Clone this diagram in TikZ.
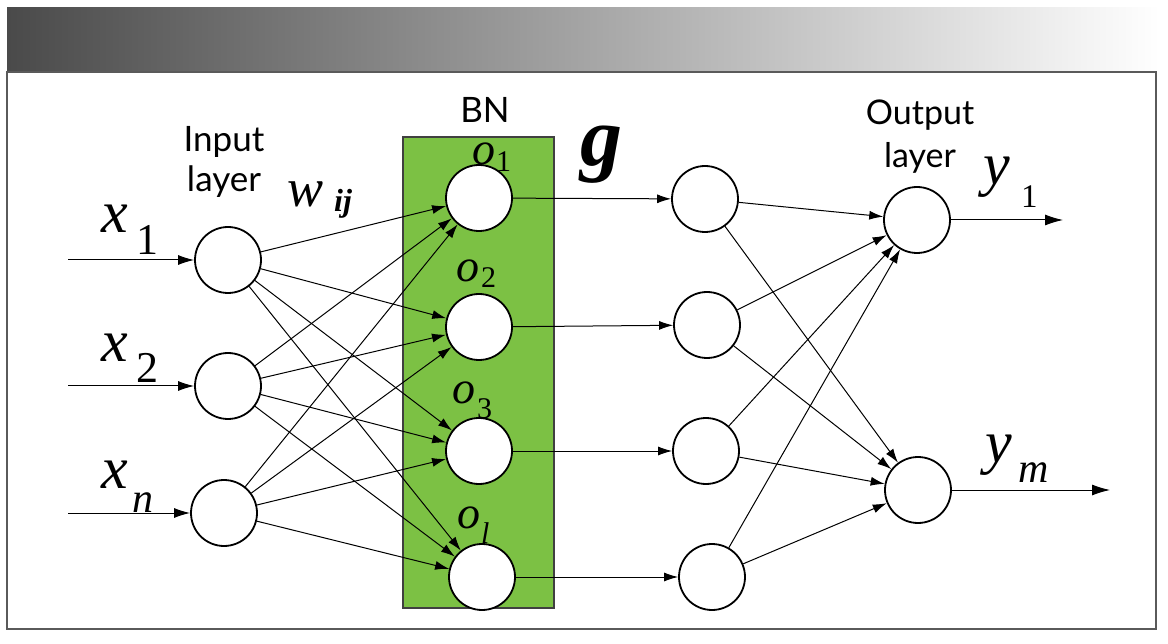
\documentclass[tikz,border=0pt]{standalone}
\usepackage{fontspec}
\setmainfont{Liberation Serif}
\newfontfamily\lato{Lato}
\usetikzlibrary{arrows.meta}
\definecolor{hdrdark}{RGB}{74,74,74}
\definecolor{bngreen}{RGB}{124,193,68}
\definecolor{framegray}{RGB}{90,90,90}
\begin{document}
\begin{tikzpicture}[x=1pt,y=-1pt,
  neuron/.style={circle,draw=black,line width=1.8pt,minimum size=66pt,inner sep=0pt,fill=white},
  conn/.style={-{Latex[length=14pt,width=9pt]},line width=1pt},
  lbl/.style={anchor=base west,inner sep=0pt},
  var/.style={lbl,font=\fontsize{60}{60}\selectfont\itshape},
  sub/.style={lbl,font=\fontsize{44}{44}\selectfont\itshape},
  ovar/.style={lbl,font=\fontsize{46}{46}\selectfont\itshape},
  osub/.style={lbl,font=\fontsize{30}{30}\selectfont\itshape},
  title/.style={inner sep=0pt,anchor=base,font=\lato\fontsize{35}{35}\selectfont}]
\useasboundingbox (0,0) rectangle (1168,644);
\fill[white] (0,0) rectangle (1168,644);
% header band and frame
\shade[left color=hdrdark,right color=white] (7,8) rectangle (1160,72);
\draw[framegray,line width=2pt] (7,72) rectangle (1156,629);
% BN box
\draw[fill=bngreen,draw=black!75,line width=1.3pt] (403,137) rectangle (554,608);
% neurons
\node[neuron] (in1) at (228,260) {};
\node[neuron] (in2) at (228,386) {};
\node[neuron] (in3) at (224,513) {};
\node[neuron] (bn1) at (479,198) {};
\node[neuron] (bn2) at (479,327) {};
\node[neuron] (bn3) at (479,451) {};
\node[neuron] (bn4) at (482,577) {};
\node[neuron] (h1) at (705,199) {};
\node[neuron] (h2) at (707,325) {};
\node[neuron] (h3) at (706,451) {};
\node[neuron] (h4) at (712,577) {};
\node[neuron] (out1) at (917,220) {};
\node[neuron] (out2) at (918,490) {};
% input arrows
\coordinate (s1) at (68,260);
\coordinate (s2) at (68,386);
\coordinate (s3) at (68,513);
\draw[conn,-{Latex[length=16pt,width=10pt]}] (s1) -- (in1);
\draw[conn,-{Latex[length=16pt,width=10pt]}] (s2) -- (in2);
\draw[conn,-{Latex[length=16pt,width=10pt]}] (s3) -- (in3);
% input -> BN
\foreach \i in {1,2,3}{
  \foreach \j in {1,2,3,4}{
    \draw[conn] (in\i) -- (bn\j);
  }
}
% BN -> hidden
\foreach \j in {1,2,3,4}{
  \draw[conn] (bn\j) -- (h\j);
}
% hidden -> output
\foreach \j in {1,2,3,4}{
  \draw[conn] (h\j) -- (out1);
  \draw[conn] (h\j) -- (out2);
}
% output arrows
\coordinate (e1) at (1063,220);
\coordinate (e2) at (1110,490);
\draw[conn,-{Latex[length=18pt,width=11pt]}] (out1) -- (e1);
\draw[conn,-{Latex[length=18pt,width=11pt]}] (out2) -- (e2);
% titles
\node[title] (tin1) at (224,152) {Input};
\node[title] (tin2) at (224,192) {layer};
\node[title] (tbn) at (485,123) {BN};
\node[title,font=\lato\fontsize{34}{34}\selectfont] (tout1) at (920,125) {Output};
\node[title,font=\lato\fontsize{34}{34}\selectfont] (tout2) at (920,168) {layer};
% variable labels
\node[var] (x1) at (101,233) {x};
\node[sub] (x1s) at (136,255) {\upshape 1};
\node[var] (x2) at (101,362) {x};
\node[sub] (x2s) at (136,383) {\upshape 2};
\node[var] (xn) at (101,488) {x};
\node[sub,font=\fontsize{42}{42}\selectfont\itshape] (xns) at (132,512) {n};
\node[lbl,font=\fontsize{54}{54}\selectfont\itshape] (w) at (287,207) {w};
\node[lbl,font=\fontsize{32}{32}\selectfont\itshape\bfseries] (wij) at (334,212) {ij};
\node[lbl,font=\fontsize{84}{84}\selectfont\itshape\bfseries] (g) at (580,166) {g};
\node[ovar] (o1) at (472,165) {o};
\node[osub] (o1s) at (496,172) {\upshape 1};
\node[ovar] (o2) at (456,282) {o};
\node[osub] (o2s) at (481,288) {\upshape 2};
\node[ovar] (o3) at (452,403) {o};
\node[osub] (o3s) at (477,418) {\upshape 3};
\node[ovar] (o4) at (457,528) {o};
\node[osub] (o4s) at (481,543) {l};
\node[var] (y1) at (983,185) {y};
\node[lbl,font=\fontsize{33}{33}\selectfont] (y1s) at (1021,208) {1};
\node[var] (ym) at (985,462) {y};
\node[lbl,font=\fontsize{42}{42}\selectfont\itshape] (yms) at (1018,482) {m};
\end{tikzpicture}
\end{document}
